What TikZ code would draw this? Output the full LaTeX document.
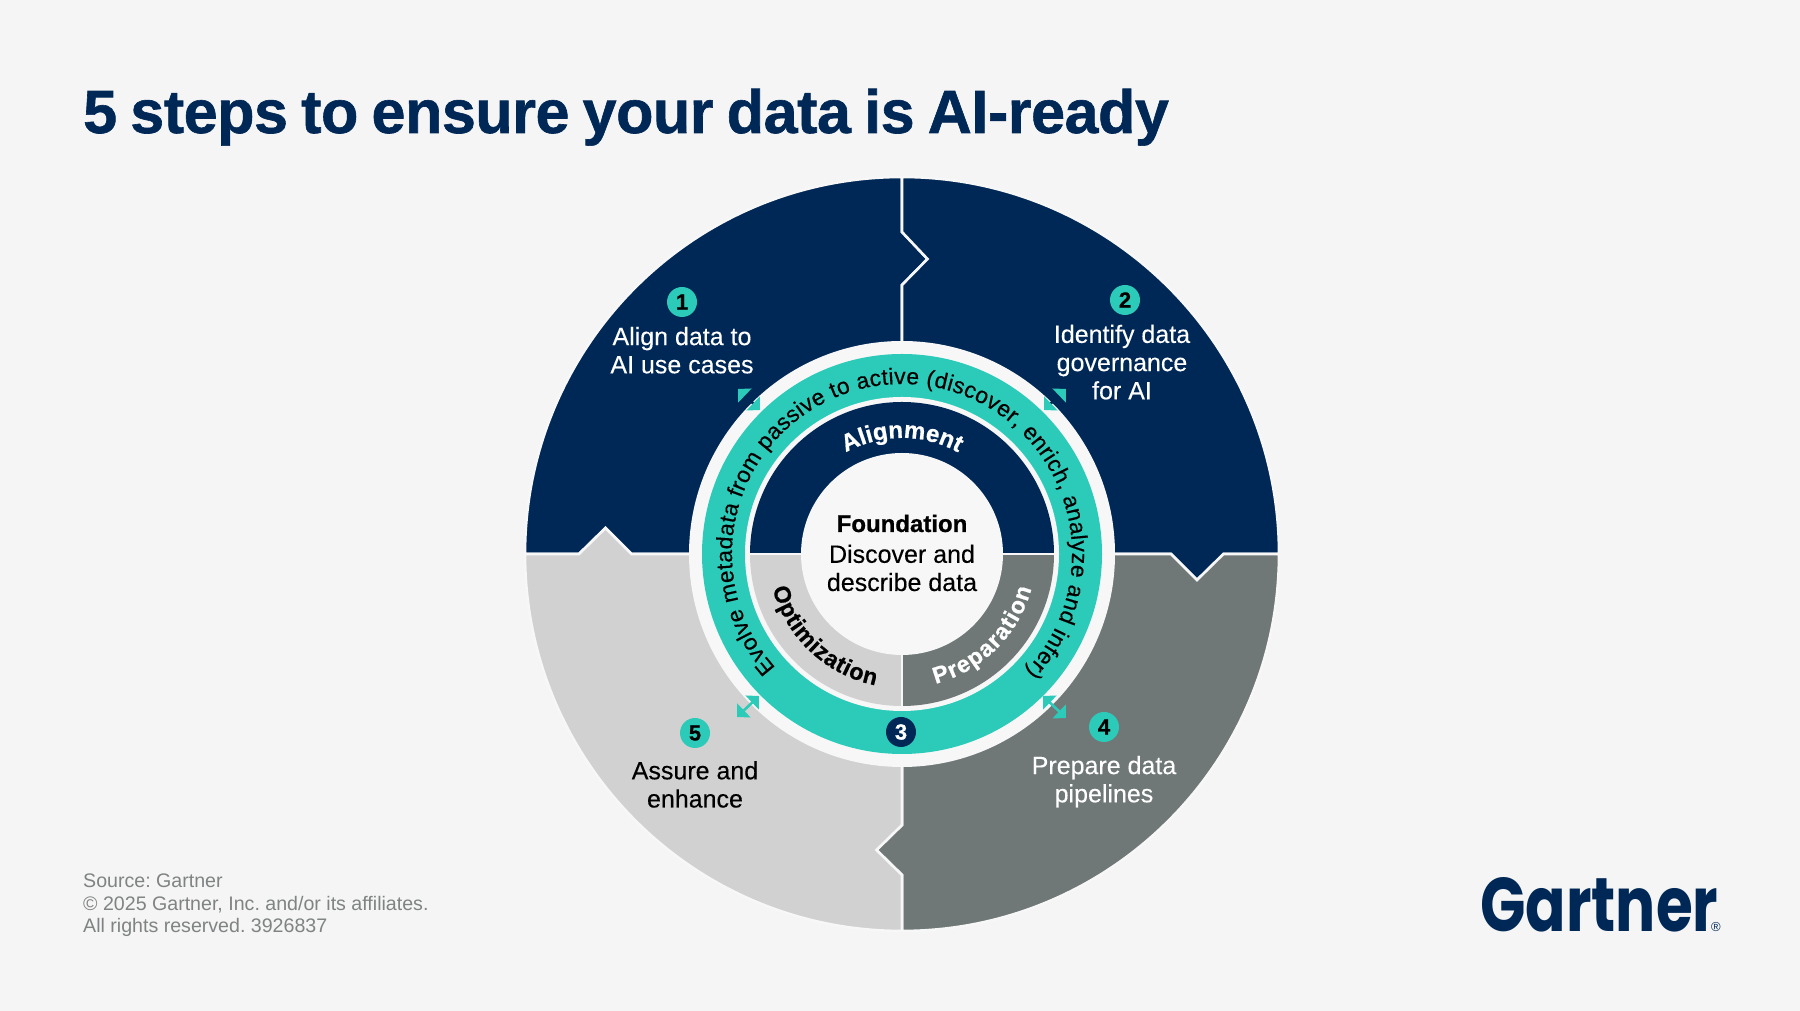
\documentclass[tikz,border=0pt]{standalone}
\usepackage{fontspec}
\setmainfont{Liberation Sans}
\newfontfamily\logofont{Poppins Bold}
\newfontfamily\bodyfont[FakeBold=0.25]{Liberation Sans}
\newfontfamily\heavyfont[UprightFont=* Bold,FakeBold=0.8]{Liberation Sans}
\newfontfamily\titlefont[UprightFont=* Bold,FakeBold=1,LetterSpace=-0.7,WordSpace=0.8]{Liberation Sans}
\usetikzlibrary{arrows.meta,decorations.text}
\definecolor{pagebg}{HTML}{F5F5F5}
\definecolor{navy}{HTML}{002856}
\definecolor{tealc}{HTML}{2CCBB9}
\definecolor{darkgray}{HTML}{6F7777}
\definecolor{lightgray}{HTML}{D1D1D1}
\definecolor{footgray}{HTML}{7F8383}
\definecolor{sep}{HTML}{F7F7F7}
\newcommand{\bodysize}{\fontsize{25}{28.2}\selectfont\bodyfont}
\newcommand{\ringsize}{\fontsize{22.8}{28}\selectfont\bodyfont}
\newcommand{\labsize}{\fontsize{23.2}{28}\selectfont\heavyfont}
\tikzset{
  quad/.style={draw=sep,line width=2.6pt,line join=miter},
  stepnum/.style={circle,minimum size=30pt,inner sep=0pt,fill=tealc,text=black,font=\fontsize{22}{22}\selectfont\heavyfont},
  steptext/.style={align=center,font=\bodysize,anchor=base},
  curved/.style={decorate},
  dbl/.style={line width=2.6pt,{Triangle[length=9.5pt,width=19pt,color=tealc]}-{Triangle[length=9.5pt,width=19pt,color=tealc]}}
}
\begin{document}
\begin{tikzpicture}[x=1pt,y=1pt]
\useasboundingbox (0,0) rectangle (1800,1011);
\fill[pagebg] (0,0) rectangle (1800,1011);
\node[anchor=base west,inner sep=0pt,text=navy,font=\fontsize{61}{61}\selectfont\titlefont] (title) at (83,878) {5 steps to ensure your data is AI-ready};
\begin{scope}[shift={(902,457)}]
\path[quad,fill=navy] (0,377) -- (0,322) -- (25.5,295) -- (0,269) -- (0,0) -- (-270.5,0) -- (-296.5,26) -- (-323,0) -- (-377,0) arc[start angle=180,end angle=90,radius=377pt] -- cycle;
\path[quad,fill=navy] (0,377) arc[start angle=90,end angle=0,radius=377pt] -- (321.5,0) -- (295,-26) -- (269,0) -- (0,0) -- (0,269) -- (25.5,295) -- (0,322) -- cycle;
\path[quad,fill=darkgray] (377,0) arc[start angle=0,end angle=-90,radius=377pt] -- (0,-321) -- (-25.5,-296) -- (0,-271) -- (0,0) -- (269,0) -- (295,-26) -- (321.5,0) -- cycle;
\path[quad,fill=lightgray] (0,-377) arc[start angle=-90,end angle=-180,radius=377pt] -- (-323,0) -- (-296.5,26) -- (-270.5,0) -- (0,0) -- (0,-271) -- (-25.5,-296) -- (0,-321) -- cycle;
% rings
\fill[sep] (0,0) circle[radius=213pt];
\fill[tealc] (0,0) circle[radius=200pt];
\fill[sep] (0,0) circle[radius=157pt];
\fill[navy] (-152,0) arc[start angle=180,end angle=0,radius=152pt] -- cycle;
\fill[darkgray] (0,0) -- (152,0) arc[start angle=0,end angle=-90,radius=152pt] -- cycle;
\fill[lightgray] (0,0) -- (0,-152) arc[start angle=-90,end angle=-180,radius=152pt] -- cycle;
\draw[sep,line width=2.6pt] (-155,0) -- (155,0);
\draw[sep,line width=2.6pt] (0,0) -- (0,-155);
\fill[sep] (0,0) circle[radius=101pt];
% curved text
\path[curved,decoration={text along path,text align=fit to path,text={|\ringsize|Evolve metadata from passive to active (discover, enrich, analyze and infer)}}] (222:170pt) arc[start angle=222,end angle=-43.5,radius=170pt];
\path[curved,decoration={text along path,text align=center,text={|\fontsize{24}{28}\selectfont\heavyfont\color{white}|Alignment}}] (150:116pt) arc[start angle=150,end angle=30,radius=116pt];
\path[curved,decoration={text along path,text align=fit to path,text={|\labsize\color{white}|Preparation}}] (-75.5:134pt) arc[start angle=-75.5,end angle=-15,radius=134pt];
\path[curved,decoration={text along path,text align=fit to path,text={|\labsize\color{black}|Optimization}}] (195:134pt) arc[start angle=195,end angle=258.5,radius=134pt];
% double arrows
\coordinate (a1o) at (-164,165); \coordinate (a1i) at (-142,144);
\coordinate (a2o) at (164,165);  \coordinate (a2i) at (142,144);
\coordinate (a4o) at (164,-164); \coordinate (a4i) at (141,-142);
\coordinate (a5o) at (-165,-163); \coordinate (a5i) at (-143,-142);
\draw[dbl,navy] (a1o) -- (a1i);
\draw[dbl,navy] (a2o) -- (a2i);
\draw[dbl,tealc] (a4o) -- (a4i);
\draw[dbl,tealc] (a5o) -- (a5i);
% centre
\node[anchor=base,font=\fontsize{24}{28}\selectfont\heavyfont,text=black] (found) at (0,22) {Foundation};
\node[steptext,text=black] (finfo) at (0,-37) {Discover and\\describe data};
\end{scope}
% steps
\node[stepnum] (n1) at (682,709) {1};
\node[stepnum] (n2) at (1125,711) {2};
\node[stepnum,fill=navy,text=white] (n3) at (901,279) {3};
\node[stepnum] (n4) at (1104,284) {4};
\node[stepnum] (n5) at (695,278) {5};
\node[steptext,text=white] (t1) at (682,637.7) {Align data to\\AI use cases};
\node[steptext,text=white] (t2) at (1122,611.7) {Identify data\\governance\\for AI};
\node[steptext,text=white] (t4) at (1104,208.7) {Prepare data\\pipelines};
\node[steptext,text=black] (t5) at (695,203.5) {Assure and\\enhance};
% footer
\node[anchor=north west,inner sep=0pt,align=left,text=footgray,font=\fontsize{19.6}{22.8}\selectfont\frenchspacing] (foot) at (83,137.5) {Source: Gartner\\© 2025 Gartner, Inc. and/or its affiliates.\\All rights reserved. 3926837};
% logo
\node[anchor=south west,inner sep=0pt,text=navy] (logo) at (1480,79) {\resizebox{238pt}{54pt}{\logofont Gartner}};
\node[anchor=center,inner sep=0pt,text=navy,font=\fontsize{13}{13}\selectfont] (reg) at (1716,84) {®};
\end{tikzpicture}
\end{document}
